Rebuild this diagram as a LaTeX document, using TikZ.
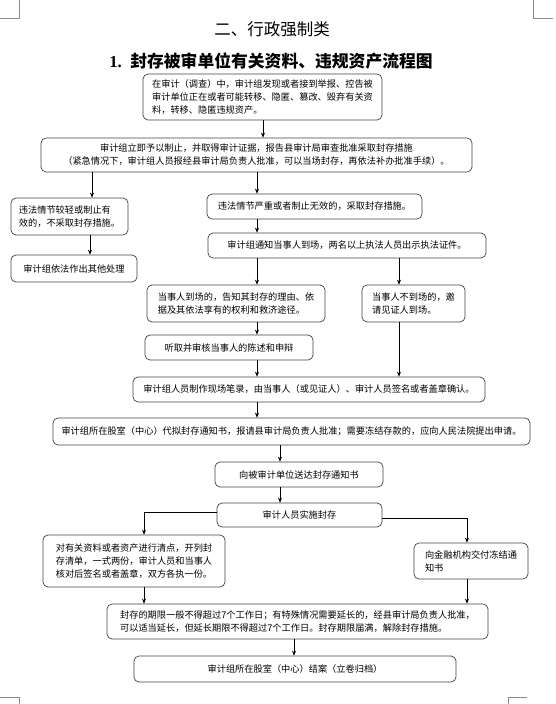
\documentclass[tikz,border=0pt]{standalone}
\usepackage{fontspec}
\setmainfont{Liberation Serif}
\newfontfamily\cjk{Noto Sans CJK SC}
\usepackage{tikz}
\usetikzlibrary{arrows.meta, positioning}

\begin{document}
\begin{tikzpicture}[x=1pt, y=-1pt, >={Stealth[length=5pt,width=4pt]},
    box/.style={rectangle, draw=black!75, line width=0.7pt, rounded corners=5pt, inner sep=2pt, align=center, font=\cjk\fontsize{9.2}{13}\selectfont},
    lbox/.style={box, align=left},
    flow/.style={line width=0.6pt, ->}]
  \useasboundingbox (0,0) rectangle (556,704);
  % crop marks
  \draw[black!45, line width=0.5pt] (0,18) -- (19,18) -- (19,0);
  \draw[black!45, line width=0.5pt] (553,18) -- (533,18) -- (533,0);
  \draw[black!45, line width=0.5pt] (0,697) -- (19,697) -- (19,704);
  \draw[black!45, line width=0.5pt] (527,697) -- (508,697) -- (508,704);

  % titles
  \node[font=\cjk\fontsize{16.5}{18}\selectfont] (T) at (272,29) {二、行政强制类};
  \node[font=\fontsize{16.8}{18}\selectfont\bfseries] (H) at (271,61) {1.\ \ {\cjk\bfseries 封存被审单位有关资料、违规资产流程图}};

  % boxes
  \node[lbox, minimum width=239, minimum height=46] (B1) at (262.5,97) {在审计（调查）中，审计组发现或者接到举报、控告被\\审计单位正在或者可能转移、隐匿、篡改、毁弃有关资\\料，转移、隐匿违规资产。};
  \node[box, minimum width=431, minimum height=34] (B2) at (256.5,155) {审计组立即予以制止，并取得审计证据，报告县审计局审查批准采取封存措施\\（紧急情况下，审计组人员报经县审计局负责人批准，可以当场封存，再依法补办批准手续）。};
  \node[lbox, minimum width=117, minimum height=37] (B3) at (69.5,216.5) {违法情节较轻或制止有\\效的，不采取封存措施。};
  \node[box, minimum width=126, minimum height=27] (B5) at (74,268.5) {审计组依法作出其他处理};
  \node[box, minimum width=215, minimum height=25] (B4) at (314.5,206.5) {违法情节严重或者制止无效的，采取封存措施。};
  \node[box, minimum width=278, minimum height=25] (B6) at (347,245.5) {审计组通知当事人到场，两名以上执法人员出示执法证件。};
  \node[lbox, minimum width=178, minimum height=37] (B7) at (236,303.5) {当事人到场的，告知其封存的理由、依\\据及其依法享有的权利和救济途径。};
  \node[lbox, minimum width=103, minimum height=37] (B8) at (413.5,303.5) {当事人不到场的，邀\\请见证人到场。};
  \node[box, minimum width=168, minimum height=25] (B9) at (229,347.5) {听取并审核当事人的陈述和申辩};
  \node[box, minimum width=352, minimum height=25] (B10) at (309,389.5) {审计组人员制作现场笔录，由当事人（或见证人）、审计人员签名或者盖章确认。};
  \node[box, minimum width=477, minimum height=27] (B11) at (291.5,431.5) {审计组所在股室（中心）代拟封存通知书，报请县审计局负责人批准；需要冻结存款的，应向人民法院提出申请。};
  \node[box, minimum width=168, minimum height=25] (B12) at (299,474.5) {向被审计单位送达封存通知书};
  \node[box, minimum width=165, minimum height=24] (B13) at (299.5,515) {审计人员实施封存};
  \node[lbox, minimum width=182, minimum height=52] (B14) at (134,561) {对有关资料或者资产进行清点，开列封\\存清单，一式两份，审计人员和当事人\\核对后签名或者盖章，双方各执一份。};
  \node[lbox, minimum width=114, minimum height=36] (B15) at (471,561) {向金融机构交付冻结通\\知书};
  \node[lbox, minimum width=381, minimum height=35] (B16) at (297.5,621.5) {封存的期限一般不得超过7个工作日；有特殊情况需要延长的，经县审计局负责人批准，\\可以适当延长，但延长期限不得超过7个工作日。封存期限届满，解除封存措施。};
  \node[box, minimum width=322, minimum height=26] (B17) at (295,669) {审计组所在股室（中心）结案（立卷归档）};

  % connector columns
  \coordinate (xa) at (263,0);
  \coordinate (xb) at (92,0);
  \coordinate (xc) at (257,0);
  \coordinate (xd) at (90,0);
  \coordinate (xe) at (399,0);
  \coordinate (xg) at (280,0);
  \coordinate (xj) at (294,0);
  \coordinate (kL) at (144,512);
  \coordinate (kR) at (467,518);

  % connectors
  \draw[flow] (B1.south -| xa) -- (B2.north -| xa);
  \draw[flow] (B2.south -| xb) -- (B3.north -| xb);
  \draw[flow] (B2.south -| xc) -- (B4.north -| xc);
  \draw[flow] (B3.south -| xd) -- (B5.north -| xd);
  \draw[flow] (B4.south -| xc) -- (B6.north -| xc);
  \draw[flow] (B6.south -| xc) -- (B7.north -| xc);
  \draw[flow] (B6.south -| xe) -- (B8.north -| xe);
  \draw[flow] (B7.south -| xc) -- (B9.north -| xc);
  \draw[flow] (B9.south -| xc) -- (B10.north -| xc);
  \draw[flow] (B8.south -| xe) -- (B10.north -| xe);
  \draw[flow] (B10.south -| xc) -- (B11.north -| xc);
  \draw[flow] (B11.south -| xg) -- (B12.north -| xg);
  \draw[flow] (B12.south -| xg) -- (B13.north -| xg);
  \draw[flow] (B13.west |- kL) -- (kL) -- (B14.north -| kL);
  \draw[flow] (B13.east |- kR) -- (kR) -- (B15.north -| kR);
  \draw[flow] (B14.south -| kL) -- (B16.north -| kL);
  \draw[flow] (B15.south -| kR) -- (B16.north -| kR);
  \draw[flow] (B16.south -| xj) -- (B17.north -| xj);
\end{tikzpicture}
\end{document}
